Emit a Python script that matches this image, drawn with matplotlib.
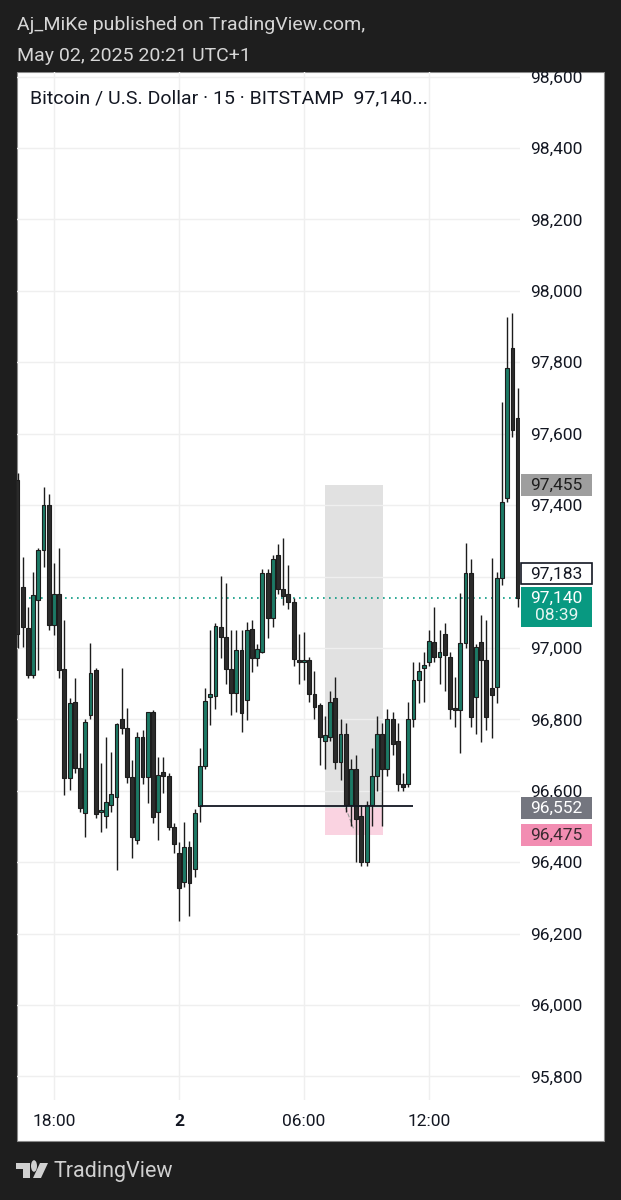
import numpy as np
import matplotlib
matplotlib.use("Agg")
import matplotlib.pyplot as plt
from matplotlib.patches import Rectangle, Polygon, Circle
import matplotlib.transforms as mtransforms

plt.rcParams['font.family'] = ['Roboto', 'DejaVu Sans']

# velas de 15 minutos (BTC/USD, BITSTAMP)
aperturas = [97470, 97171, 97056, 96924, 97134, 97274, 97400, 97065, 97150, 96941,
             96636, 96849, 96664, 96538, 96812, 96938, 96540, 96530, 96560, 96583,
             96801, 96776, 96639, 96462, 96751, 96639, 96821, 96541, 96653, 96642,
             96499, 96426, 96345, 96443, 96381, 96558, 96670, 96862, 96866, 97058,
             97030, 96940, 96874, 96994, 96855, 97053, 96972, 96990, 97210, 97084,
             97260, 97165, 97150, 97130, 96965, 96960, 96965, 96870, 96840, 96740,
             96751, 96860, 96680, 96760, 96560, 96660, 96530, 96400, 96560, 96640,
             96760, 96660, 96800, 96740, 96620, 96620, 96800, 96910, 96945, 96961,
             97017, 96975, 97040, 96975, 96830, 96825, 97014, 97210, 96863, 97017,
             96966, 96888, 96891, 97196, 97420, 97840, 97644]
maximos = [97490, 97255, 97115, 97213, 97280, 97450, 97431, 97238, 97280, 97078,
           96860, 96916, 96706, 96800, 97014, 96945, 96678, 96751, 96709, 96790,
           96944, 96832, 96686, 96765, 96770, 96821, 96825, 96695, 96695, 96650,
           96510, 96457, 96513, 96460, 96550, 96720, 96888, 97050, 97070, 97202,
           97182, 97050, 97050, 97050, 97073, 97078, 97010, 97220, 97220, 97260,
           97290, 97308, 97232, 97140, 97040, 97045, 96975, 96935, 96845, 96810,
           96880, 96920, 96800, 96790, 96690, 96700, 96560, 96570, 96720, 96810,
           96790, 96830, 96820, 96790, 96650, 96850, 96960, 96960, 96990, 97050,
           97115, 97050, 97070, 96990, 96920, 97154, 97294, 97250, 97010, 97092,
           97078, 97252, 97213, 97689, 97927, 97938, 97728]
minimos = [97000, 97003, 96916, 96916, 96938, 97227, 97050, 97036, 96916, 96588,
           96602, 96650, 96540, 96471, 96800, 96524, 96485, 96496, 96540, 96378,
           96760, 96622, 96412, 96450, 96620, 96566, 96510, 96462, 96594, 96490,
           96426, 96235, 96330, 96250, 96359, 96513, 96660, 96785, 96830, 96972,
           96900, 96812, 96820, 96765, 96799, 96933, 96950, 96985, 97028, 97060,
           97150, 97120, 97110, 96950, 96900, 96910, 96850, 96800, 96672, 96660,
           96740, 96660, 96630, 96540, 96500, 96400, 96390, 96390, 96500, 96600,
           96500, 96640, 96700, 96600, 96600, 96610, 96780, 96846, 96850, 96950,
           96960, 96900, 96880, 96800, 96780, 96706, 97000, 96780, 96760, 96737,
           96770, 96748, 96846, 97176, 97410, 97590, 97115]
cierres = [97040, 97059, 96924, 97148, 97274, 97400, 97065, 97150, 96938, 96636,
           96846, 96664, 96552, 96793, 96930, 96535, 96545, 96569, 96591, 96787,
           96776, 96639, 96471, 96751, 96639, 96821, 96527, 96644, 96642, 96499,
           96451, 96328, 96443, 96342, 96538, 96670, 96852, 96872, 97062, 97030,
           96940, 96874, 96994, 96818, 97050, 96972, 96998, 97210, 97084, 97250,
           97165, 97145, 97130, 96970, 96960, 96962, 96870, 96835, 96751, 96755,
           96850, 96680, 96760, 96560, 96660, 96520, 96400, 96560, 96640, 96760,
           96660, 96800, 96730, 96620, 96610, 96800, 96910, 96935, 96950, 97020,
           96975, 96990, 96980, 96830, 96825, 97014, 97210, 96808, 97003, 96966,
           96807, 96868, 97196, 97409, 97784, 97610, 97140]

# eje de tiempo
posTicks = [7, 31, 55, 79]
etiquetasTiempo = ['18:00', '2', '06:00', '12:00']

# eje de precios
nivelesPrecio = list(range(95800, 98601, 200))

precioActual = 97140
precioPrevio = 97183
objetivo = 97455
entrada = 96552
stop = 96475
nivelLinea = 96556

W, H = 621, 1200
fondo = '#1e1e1e'
verde = '#1d7a66'
oscuro = '#2b2b2b'
borde = '#1c1c1c'
tamEje = 12.5


def fx(x):
    return x / W


def fy(y):
    return 1 - y / H


fig = plt.figure(figsize=(W / 100, H / 100), dpi=100, facecolor=fondo)

# panel blanco del grafico
panel = Rectangle((fx(17), fy(1141)), fx(604) - fx(17), fy(72) - fy(1141),
                  transform=fig.transFigure, facecolor='white', edgecolor='#8a8a8a',
                  lw=0.8, zorder=-1)
fig.patches.append(panel)

ax = fig.add_axes([fx(17), fy(1100), fx(520) - fx(17), fy(72) - fy(1100)])
ax.set_facecolor('none')
for s in ax.spines.values():
    s.set_visible(False)

n = len(cierres)
idx = np.arange(n)
ax.set_xlim(-0.1, 96.45)
ax.set_ylim(95734, 98613)

# grilla
ax.set_yticks(nivelesPrecio)
ax.set_yticklabels(['' if p == 97200 else f'{p:,}' for p in nivelesPrecio])
ax.set_xticks(posTicks)
ax.set_xticklabels(etiquetasTiempo)
ax.xaxis.get_ticklabels()[1].set_fontweight('bold')
ax.grid(True, color='#efefef', lw=1.0, zorder=0)
ax.yaxis.tick_right()
ax.tick_params(axis='y', length=0, pad=7.5, labelsize=tamEje, labelcolor='#131722')
ax.tick_params(axis='x', length=0, pad=10, labelsize=tamEje, labelcolor='#131722')

# herramienta de posicion (zona objetivo gris, zona stop rosa)
x0, x1 = 59.0, 70.2
ax.add_patch(Rectangle((x0, entrada), x1 - x0, objetivo - entrada,
                       facecolor='#e1e1e1', edgecolor='none', zorder=1))
ax.add_patch(Rectangle((x0, stop), x1 - x0, entrada - stop,
                       facecolor='#fad3e1', edgecolor='none', zorder=1))
ax.plot([63.0, 64.6], [entrada, stop + 15], color='#9a9a9a', lw=0.8, ls='--', zorder=1.5)

# linea horizontal negra
ax.hlines(nivelLinea, 35, 76.0, color='#131722', lw=1.3, zorder=4)

# precio actual punteado
ax.axhline(precioActual, color='#089981', lw=1.2, ls=(0, (1, 2.6)), zorder=2)

# velas
o = np.array(aperturas)
c = np.array(cierres)
alcista = c >= o
ax.vlines(idx, minimos, maximos, color=borde, lw=1.0, zorder=3)
alturas = np.maximum(np.abs(c - o), 6)
bases = np.minimum(o, c)
colores = [verde if a else oscuro for a in alcista]
ax.bar(idx, alturas, bottom=bases, width=0.74, color=colores,
       edgecolor=borde, linewidth=0.8, zorder=3.5)

# titulo dentro del grafico
fig.text(fx(30), fy(98), 'Bitcoin / U.S. Dollar · 15 · BITSTAMP  97,140...',
         fontsize=14, color='#131722', va='center', ha='left', zorder=6)

# etiquetas de precio a la derecha
trans = mtransforms.blended_transform_factory(ax.transAxes, ax.transData)
pxPrecio = (98613 - 95734) / (1100 - 72)
anchoCaja = (592 - 521) / (520 - 17)
xCaja = (521 - 17) / (520 - 17)
xTexto = xCaja + anchoCaja / 2


def caja(yCentro, texto, fondoCaja, colorTexto, alto=22, bordeCaja='none'):
    ax.add_patch(Rectangle((xCaja, yCentro - alto / 2 * pxPrecio), anchoCaja, alto * pxPrecio,
                           transform=trans, facecolor=fondoCaja, edgecolor=bordeCaja,
                           lw=1.2, clip_on=False, zorder=7))
    ax.text(xTexto, yCentro, texto, transform=trans, ha='center', va='center',
            fontsize=tamEje, color=colorTexto, clip_on=False, zorder=8)


caja(objetivo, f'{objetivo:,}', '#9e9e9e', '#1e1e1e')
caja(entrada, f'{entrada:,}', '#74767f', 'white')
caja(stop, f'{stop:,}', '#f28db2', '#3a2a30')

# caja del precio actual (dos lineas)
altoAct = 40
topAct = precioActual + 11 * pxPrecio
ax.add_patch(Rectangle((xCaja, topAct - altoAct * pxPrecio), anchoCaja, altoAct * pxPrecio,
                       transform=trans, facecolor='#089981', edgecolor='none',
                       clip_on=False, zorder=7))
ax.text(xTexto, precioActual, f'{precioActual:,}', transform=trans, ha='center',
        va='center', fontsize=tamEje, color='white', clip_on=False, zorder=8)
ax.text(xTexto, precioActual - 18 * pxPrecio, '08:39', transform=trans, ha='center',
        va='center', fontsize=tamEje, color='#e6f5f1', clip_on=False, zorder=8)

# precio previo, desplazado arriba de la caja actual
caja(topAct + 13 * pxPrecio, f'{precioPrevio:,}', 'white', '#131722', alto=21,
     bordeCaja='#131722')

# franja oscura superior (recorta la etiqueta 98,600)
fig.patches.append(Rectangle((0, fy(72)), 1, 1 - fy(72), transform=fig.transFigure,
                             facecolor=fondo, edgecolor='none', zorder=1))

# encabezado
fig.text(fx(17), fy(25), 'Aj_MiKe published on TradingView.com,', fontsize=14,
         color='#d6d6d6', va='center', ha='left', zorder=5)
fig.text(fx(17), fy(56), 'May 02, 2025 20:21 UTC+1', fontsize=14,
         color='#d6d6d6', va='center', ha='left', zorder=5)

# logo TradingView
gris = '#d0d0d0'
fig.patches.append(Polygon([(fx(16), fy(1163)), (fx(30), fy(1163)), (fx(30), fy(1178)),
                            (fx(23), fy(1178)), (fx(23), fy(1169)), (fx(16), fy(1169))],
                           closed=True, transform=fig.transFigure, facecolor=gris,
                           edgecolor='none', zorder=5))
fig.patches.append(Circle((fx(34), fy(1166)), 3 / W, transform=fig.transFigure,
                          facecolor=gris, edgecolor='none', zorder=5))
fig.patches.append(Polygon([(fx(40), fy(1163)), (fx(48), fy(1163)), (fx(41), fy(1178)),
                            (fx(33), fy(1178))], closed=True, transform=fig.transFigure,
                           facecolor=gris, edgecolor='none', zorder=5))
fig.text(fx(54), fy(1171), 'TradingView', fontsize=15.5, color=gris,
         va='center', ha='left', zorder=5)

fig.savefig('out.png', dpi=100, facecolor=fondo)
